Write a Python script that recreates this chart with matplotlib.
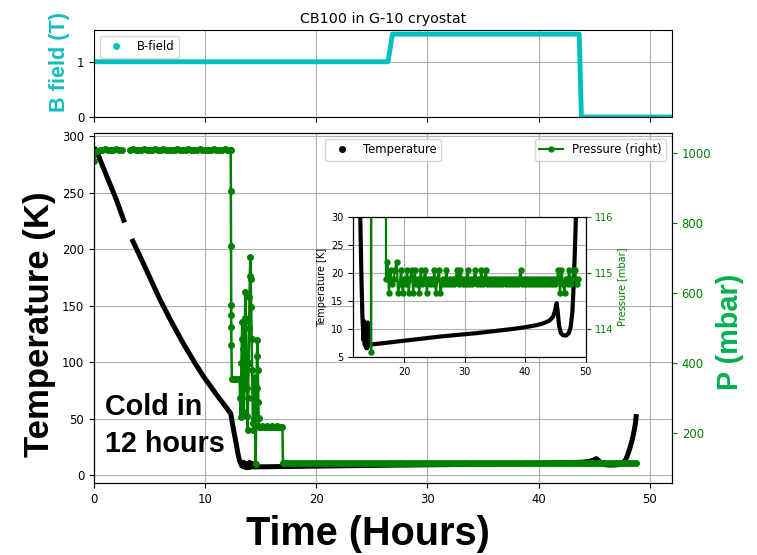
import numpy as np
import matplotlib
matplotlib.use('Agg')
import matplotlib.pyplot as plt
from matplotlib.lines import Line2D

# 磁场记录 (T)
b_time = [0.0, 26.45, 26.85, 43.65, 43.85, 52.0]
b_field = [1.0, 1.0, 1.5, 1.5, 0.0, 0.0]

# 样品温度 (K)，2.8~3.4 h 之间没有记录
temp_time = [0.0, 0.3, 1.0, 2.0, 2.75, 2.9, 3.4, 4.5, 5.9, 7.0, 8.0, 9.0, 9.8, 11.0, 12.0,
             12.3, 12.5, 12.75, 12.95, 13.1, 13.2, 13.3, 13.4, 13.5, 13.6, 13.7, 13.8, 13.9,
             14.0, 14.1, 14.2, 14.3, 14.45, 14.7, 16.0, 18.0, 20.0, 22.0, 24.0, 26.0, 28.0,
             30.0, 32.0, 34.0, 36.0, 38.0, 40.0, 42.0, 43.0, 44.0, 44.6, 44.9, 45.2, 45.35,
             45.6, 45.9, 46.3, 46.8, 47.2, 47.5, 47.8, 48.0, 48.2, 48.4, 48.55, 48.7, 48.8]
temp_k = [290, 285, 268, 244, 223.5, np.nan, 209, 186, 156, 135, 117, 100.5, 88, 71.5, 58.5,
          54.5, 43, 30, 19, 12.5, 10.2, 8.0, 11.4, 7.2, 10.6, 6.7, 9.8, 6.6,
          11.2, 7.1, 10.4, 7.4, 7.2, 7.3, 7.45, 7.7, 7.95, 8.2, 8.45, 8.7, 8.9,
          9.1, 9.3, 9.55, 9.8, 10.05, 10.35, 10.75, 11.05, 11.5, 12.2, 13.2, 14.6, 13.4,
          10.6, 9.3, 8.9, 8.9, 9.3, 10.3, 13.0, 17.5, 23.5, 30.5, 37, 45, 54]

# 压力 (mbar)：室温段，每 15 分钟一个点
p_warm_time = np.arange(0.0, 12.3, 0.25)
p_warm = [978, 1008, 1010, 1009, 1011, 1010, 1010, 1009, 1011, 1010, 1010,
          np.nan, np.nan,
          1010, 1011, 1010, 1009, 1010, 1011, 1010, 1010, 1009, 1011, 1010, 1010,
          1011, 1010, 1009, 1010, 1010, 1011, 1010, 1009, 1010, 1011, 1010, 1010,
          1010, 1011, 1010, 1009, 1010, 1010, 1011, 1010, 1009, 1010, 1011, 1010, 1010]

# 降温过程中的压力波动
p_cool_time = [12.30, 12.31, 12.32, 12.33, 12.34, 12.35, 12.36, 12.4, 12.6, 12.8, 13.0, 13.1,
               13.14, 13.18, 13.22, 13.26, 13.30, 13.34, 13.38, 13.42, 13.46, 13.50, 13.54,
               13.58, 13.62, 13.66, 13.70, 13.74, 13.78, 13.82, 13.86, 13.90, 13.94, 13.98,
               14.02, 14.06, 14.10, 14.14, 14.18, 14.22, 14.26, 14.30, 14.34, 14.38, 14.42,
               14.46, 14.50, 14.54, 14.58, 14.62, 14.66, 14.70, 14.74, 14.78, 14.82, 14.86,
               15.0, 15.15, 15.3, 15.45, 15.6, 15.75, 15.9, 16.05, 16.2, 16.35, 16.5, 16.65,
               16.8, 16.95]
p_cool = [1010, 892, 736, 567, 538, 504, 452, 356, 354, 356, 355, 354,
          300, 247, 300, 400, 470, 519, 440, 350, 260, 330, 430,
          530, 605, 520, 420, 330, 250, 209, 300, 400, 500, 590,
          650, 705, 640, 560, 470, 380, 300, 230, 209, 243, 300,
          360, 300, 113.6, 220, 330, 420, 467, 380, 290, 243, 219,
          219, 220, 219, 219, 220, 219, 219, 220, 219, 219, 220, 219,
          219, 219]

# 低温稳定段，每 15 分钟一个点
p_cold_time = np.arange(17.0, 49.0, 0.25)
p_cold = [114.9, 115.2, 114.65, 115.05, 114.8, 114.9, 115.05, 115.2, 114.65, 114.8, 115.05, 114.65, 114.9, 114.8, 115.05, 114.65,
          114.9, 115.05, 114.65, 115.05, 114.8, 114.9, 114.65, 115.05, 114.8, 114.9, 115.05, 114.65, 114.9, 114.8, 114.9, 114.8,
          115.05, 114.65, 114.9, 115.05, 114.65, 114.8, 114.9, 114.8, 115.05, 114.8, 114.9, 114.8, 114.9, 114.8, 114.9, 115.05,
          114.8, 115.05, 114.9, 114.8, 114.9, 114.8, 115.05, 114.8, 114.9, 114.8, 114.9, 115.05, 114.8, 114.9, 114.8, 115.05,
          114.8, 114.9, 115.05, 114.8, 114.9, 114.8, 114.9, 114.8, 114.9, 114.8, 114.9, 114.8, 114.9, 114.8, 114.9, 114.8,
          114.9, 114.8, 114.9, 114.8, 114.9, 114.8, 114.9, 114.8, 114.9, 115.05, 114.8, 114.9, 114.8, 114.9, 114.8, 114.9,
          114.8, 114.9, 114.8, 114.9, 114.8, 114.9, 114.8, 114.9, 114.8, 114.9, 114.8, 114.9, 114.8, 114.9, 114.8, 114.9,
          114.8, 114.9, 115.05, 114.65, 115.05, 114.8, 114.65, 114.9, 114.8, 115.05, 114.8, 114.9, 115.05, 115.05, 114.8, 114.9]

p_time = np.concatenate([p_warm_time, p_cool_time, p_cold_time])
p_mbar = np.concatenate([p_warm, p_cool, p_cold])

fig = plt.figure(figsize=(7.57, 5.55), dpi=100)
tick_fs = 8.4

# 上方：磁场
ax_b = fig.add_axes([0.1242, 0.7892, 0.7635, 0.1568])
ax_b.plot(b_time, b_field, color='c', lw=3.5)
ax_b.set_xlim(0, 52)
ax_b.set_ylim(0, 1.575)
ax_b.set_yticks([0, 1])
ax_b.set_xticks(range(0, 51, 10))
ax_b.tick_params(labelbottom=False, labelsize=tick_fs)
ax_b.grid(True)
ax_b.set_title('CB100 in G-10 cryostat', fontsize=10.3, pad=5)
ax_b.legend([Line2D([], [], color='c', marker='.', ls='none', ms=8)], ['B-field'],
            loc='upper left', fontsize=tick_fs)

# 主图：温度 + 压力
ax = fig.add_axes([0.1242, 0.1297, 0.7635, 0.6312])
ax.plot(temp_time, temp_k, color='k', lw=3.6, solid_capstyle='butt', solid_joinstyle='round')
ax.set_xlim(0, 52)
ax.set_ylim(-7, 303)
ax.set_xticks(range(0, 51, 10))
ax.set_yticks(range(0, 301, 50))
ax.tick_params(labelsize=tick_fs)
ax.grid(True)
ax.legend([Line2D([], [], color='k', marker='.', ls='none', ms=8)], ['Temperature'],
          loc='upper center', fontsize=tick_fs)

ax_p = ax.twinx()
ax_p.plot(p_time, p_mbar, '-o', color='green', lw=1.8, ms=4, label='Pressure (right)')
ax_p.set_ylim(58, 1059)
ax_p.set_yticks(range(200, 1001, 200))
ax_p.tick_params(axis='y', colors='green', labelsize=tick_fs)
ax_p.legend([Line2D([], [], color='green', marker='.', lw=1.5, ms=7)], ['Pressure (right)'],
            loc='upper right', fontsize=tick_fs)

# 插图：低温段放大
ins = fig.add_axes([0.4667, 0.3562, 0.307, 0.2533])
ins.plot(temp_time, temp_k, color='k', lw=3.0, solid_capstyle='butt', solid_joinstyle='round')
ins.set_xlim(11.6, 50)
ins.set_ylim(5, 30)
ins.set_xticks([20, 30, 40, 50])
ins.set_yticks(range(5, 31, 5))
ins.grid(True)
ins.tick_params(labelsize=7)
ins.set_ylabel('Temperature [K]', fontsize=7, labelpad=3)

ins_p = ins.twinx()
ins_p.plot(p_time, p_mbar, '-o', color='green', lw=1.6, ms=3.6)
ins_p.set_ylim(113.5, 116)
ins_p.set_yticks([114, 115, 116])
ins_p.tick_params(axis='y', colors='green', labelsize=7)
ins_p.set_ylabel('Pressure [mbar]', fontsize=7, color='green', labelpad=2)

# 大号标注
big = ['Liberation Sans', 'DejaVu Sans']
fig.text(40 / 757, 0.416, 'Temperature (K)', rotation=90, ha='center', va='center',
         fontsize=25, fontweight='bold', family=big)
fig.text(59 / 757, 0.889, 'B field (T)', rotation=90, ha='center', va='center',
         fontsize=15.6, fontweight='bold', color='#14BDBA', family=big)
fig.text(730 / 757, 0.403, 'P (mbar)', rotation=90, ha='center', va='center',
         fontsize=20.8, fontweight='bold', color='#00B050', family=big)
fig.text(368 / 757, 1 - 545 / 555, 'Time (Hours)', ha='center', va='baseline',
         fontsize=28.5, fontweight='bold', family=big)
fig.text(105 / 757, 1 - 415 / 555, 'Cold in', ha='left', va='baseline',
         fontsize=20.7, fontweight='bold', family=big)
fig.text(105 / 757, 1 - 452 / 555, '12 hours', ha='left', va='baseline',
         fontsize=20.7, fontweight='bold', family=big)

fig.savefig('out.png', dpi=100)
